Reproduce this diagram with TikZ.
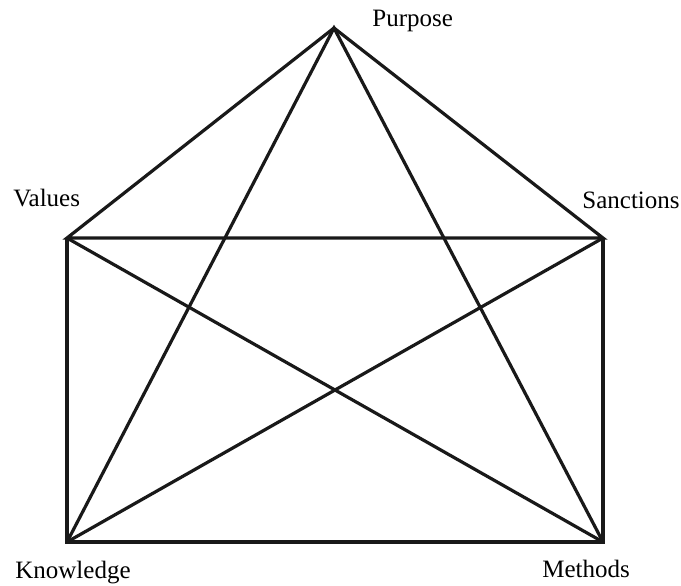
\documentclass[tikz,border=0pt]{standalone}
\usepackage{fontspec}
\setmainfont{Liberation Serif}
\usepackage{tikz}
\usetikzlibrary{positioning}

\begin{document}
\begin{tikzpicture}[
  x=0.5pt,
  y=-0.5pt,
  edge/.style={line width=1.6pt, line join=miter, black!90},
  label/.style={font=\fontsize{12.5}{15}\selectfont, inner sep=0pt, anchor=base west}
]

  % Fix the page to the reference size.
  \useasboundingbox (0,0) rectangle (681,585);

  % Corner points of the house.
  \coordinate (purpose)   at (334,28);
  \coordinate (values)    at (67,238);
  \coordinate (sanctions) at (603,238);
  \coordinate (knowledge) at (67,542);
  \coordinate (methods)   at (603,542);

  % Roof and walls.
  \draw[edge] (purpose) -- (values) -- (sanctions) -- cycle;
  \draw[edge] (values) -- (knowledge) -- (methods) -- (sanctions);

  % Inner star lines.
  \draw[edge] (knowledge) -- (purpose) -- (methods);
  \draw[edge] (values) -- (methods);
  \draw[edge] (sanctions) -- (knowledge);

  % Labels.
  \node[label] (purposelabel)   at (372,26)  {Purpose};
  \node[label] (valueslabel)    at (13,206)  {Values};
  \node[label] (sanctionslabel) at (582,208) {Sanctions};
  \node[label] (knowledgelabel) at (15,578)  {Knowledge};
  \node[label] (methodslabel)   at (542,577) {Methods};

\end{tikzpicture}
\end{document}
